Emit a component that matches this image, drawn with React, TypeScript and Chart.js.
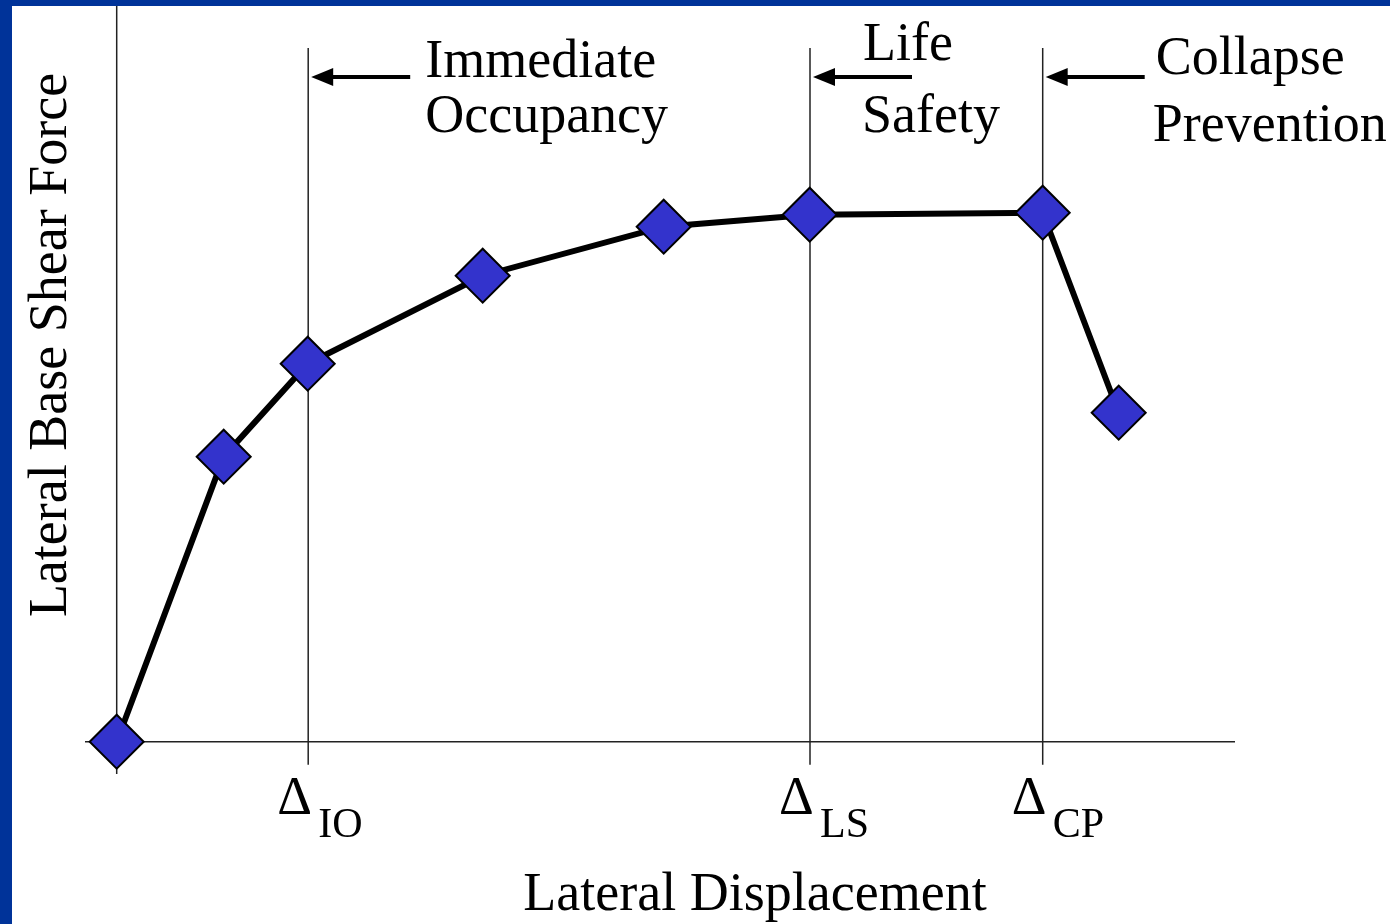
import React, { useEffect, useRef } from "react";
import { Chart, registerables } from "chart.js";

Chart.register(...registerables);

// Pushover curve (arbitrary units)
const displacement = [0, 10.7, 19.1, 36.6, 54.7, 69.3, 92.6, 100.2];
const baseShear = [0, 28.5, 37.8, 46.6, 51.5, 52.7, 52.9, 32.9];

// Performance levels
const levelKeys = ["IO", "LS", "CP"];
const levelDisp = [19.15, 69.33, 92.6];
const levelNames = [
  ["Immediate", "Occupancy"],
  ["Life", "Safety"],
  ["Collapse", "Prevention"],
];

const xTitle = "Lateral Displacement";
const yTitle = "Lateral Base Shear Force";

// layout only (pixel offsets relative to each level line)
const levelTextLayout = [
  { dx: 117, y1: 77, dx2: 117, y2: 132 },
  { dx: 53, y1: 60, dx2: 52, y2: 132 },
  { dx: 113, y1: 74, dx2: 110, y2: 141 },
];

const SERIF = '"Liberation Serif", "Times New Roman", serif';

const drawingPlugin = {
  id: "pushoverDecor",
  beforeDraw(chart: any) {
    const ctx = chart.ctx;
    ctx.save();
    ctx.fillStyle = "#ffffff";
    ctx.fillRect(0, 0, chart.width, chart.height);
    ctx.fillStyle = "#003399";
    ctx.fillRect(0, 0, 12, chart.height);
    ctx.fillRect(0, 0, chart.width, 6);
    ctx.restore();
  },
  beforeDatasetsDraw(chart: any) {
    const ctx = chart.ctx;
    const xs = chart.scales.x;
    const ys = chart.scales.y;
    const area = chart.chartArea;
    ctx.save();
    ctx.strokeStyle = "#222222";
    ctx.lineWidth = 1.5;
    // y axis
    const x0 = xs.getPixelForValue(0);
    ctx.beginPath();
    ctx.moveTo(x0, area.top);
    ctx.lineTo(x0, area.bottom);
    ctx.stroke();
    // x axis
    const y0 = ys.getPixelForValue(0);
    ctx.beginPath();
    ctx.moveTo(area.left, y0);
    ctx.lineTo(area.right, y0);
    ctx.stroke();
    // level lines
    levelDisp.forEach((d) => {
      const px = xs.getPixelForValue(d);
      ctx.beginPath();
      ctx.moveTo(px, 48);
      ctx.lineTo(px, y0 + 23);
      ctx.stroke();
    });
    ctx.restore();
  },
  afterDraw(chart: any) {
    const ctx = chart.ctx;
    const xs = chart.scales.x;
    ctx.save();
    ctx.fillStyle = "#000000";
    ctx.strokeStyle = "#000000";
    ctx.textBaseline = "alphabetic";

    levelDisp.forEach((d, i) => {
      const px = xs.getPixelForValue(d);
      // Delta label with subscript
      ctx.font = `54px ${SERIF}`;
      ctx.textAlign = "left";
      ctx.fillText("\u0394", px - 31, 814);
      ctx.font = `42px ${SERIF}`;
      ctx.fillText(levelKeys[i], px + 10, 837);

      // arrow
      const ay = 77;
      const tip = px + 3;
      ctx.lineWidth = 4;
      ctx.beginPath();
      ctx.moveTo(px + 102, ay);
      ctx.lineTo(tip + 18, ay);
      ctx.stroke();
      ctx.beginPath();
      ctx.moveTo(tip, ay);
      ctx.lineTo(tip + 22, ay - 9);
      ctx.lineTo(tip + 22, ay + 9);
      ctx.closePath();
      ctx.fill();

      // names
      const lay = levelTextLayout[i];
      ctx.font = `54px ${SERIF}`;
      ctx.fillText(levelNames[i][0], px + lay.dx, lay.y1);
      ctx.fillText(levelNames[i][1], px + lay.dx2, lay.y2);
    });

    // axis titles
    ctx.font = `54px ${SERIF}`;
    ctx.textAlign = "center";
    ctx.fillText(xTitle, 755, 910);
    ctx.translate(66, 345);
    ctx.rotate(-Math.PI / 2);
    ctx.fillText(yTitle, 0, 0);
    ctx.restore();
  },
};

export default function App() {
  const ref = useRef<HTMLCanvasElement | null>(null);
  useEffect(() => {
    if (!ref.current) return;
    const chart = new Chart(ref.current, {
      type: "line",
      data: {
        datasets: [
          {
            data: displacement.map((x, i) => ({ x, y: baseShear[i] })),
            borderColor: "#000000",
            borderWidth: 6,
            pointStyle: "rectRot",
            pointRadius: 27,
            pointBackgroundColor: "#3333CC",
            pointBorderColor: "#000000",
            pointBorderWidth: 2,
            tension: 0,
            clip: false as any,
          },
        ],
      },
      options: {
        animation: false,
        responsive: false,
        events: [],
        layout: { autoPadding: false, padding: { left: 85, right: 155, top: 6, bottom: 150 } },
        plugins: { legend: { display: false }, tooltip: { enabled: false } },
        scales: {
          x: { type: "linear", display: false, min: -3.17, max: 111.83 },
          y: { type: "linear", display: false, min: -3.23, max: 73.57 },
        },
      },
      plugins: [drawingPlugin],
    });
    return () => chart.destroy();
  }, []);
  return (
    <div style={{ position: "fixed", left: 0, top: 0, width: 1390, height: 924, background: "#fff" }}>
      <canvas ref={ref} width={1390} height={924} style={{ display: "block" }} />
    </div>
  );
}
